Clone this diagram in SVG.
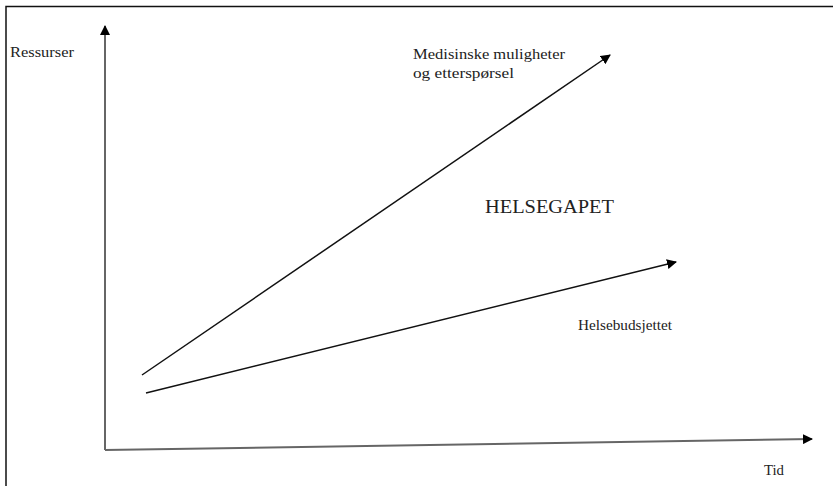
<svg xmlns="http://www.w3.org/2000/svg" width="833" height="486" viewBox="0 0 833 486">
<style>
text { font-family: "Liberation Serif", "Times New Roman", serif; fill: #222; }
.lbl { font-size: 15.5px; }
.big { font-size: 19px; }
.axis { stroke: #666; stroke-width: 2; fill: none; }
.line { stroke: #111; stroke-width: 1.5; fill: none; }
.frame { stroke: #111; stroke-width: 1.5; fill: none; }
</style>
<defs>
<marker id="arr" viewBox="0 0 10 10" refX="9" refY="5" markerWidth="10" markerHeight="10" markerUnits="userSpaceOnUse" orient="auto">
<path d="M0,0 L10,5 L0,10 z" fill="#000"/>
</marker>
</defs>
<rect width="833" height="486" fill="#fff"/>
<path class="frame" d="M6,486 L6,6.5 L833,6.5"/>
<g id="connectors">
<line class="axis" x1="105" y1="450" x2="105" y2="26" marker-end="url(#arr)"/>
<line class="axis" x1="105" y1="450" x2="812" y2="439" marker-end="url(#arr)"/>
<line class="line" x1="142" y1="375" x2="610" y2="55" marker-end="url(#arr)"/>
<line class="line" x1="146" y1="393" x2="676" y2="262" marker-end="url(#arr)"/>
</g>
<g id="ressurser"><text class="lbl" x="10" y="57" textLength="64" lengthAdjust="spacingAndGlyphs">Ressurser</text></g>
<g id="medisinske"><text class="lbl" x="413" y="59" textLength="152" lengthAdjust="spacingAndGlyphs">Medisinske muligheter</text><text class="lbl" x="413" y="78" textLength="101" lengthAdjust="spacingAndGlyphs">og etterspørsel</text></g>
<g id="helsegapet"><text class="big" x="485" y="213" textLength="129" lengthAdjust="spacingAndGlyphs">HELSEGAPET</text></g>
<g id="helsebudsjettet"><text class="lbl" x="578" y="330" textLength="94" lengthAdjust="spacingAndGlyphs">Helsebudsjettet</text></g>
<g id="tid"><text class="lbl" x="764" y="475" textLength="20" lengthAdjust="spacingAndGlyphs">Tid</text></g>
</svg>
